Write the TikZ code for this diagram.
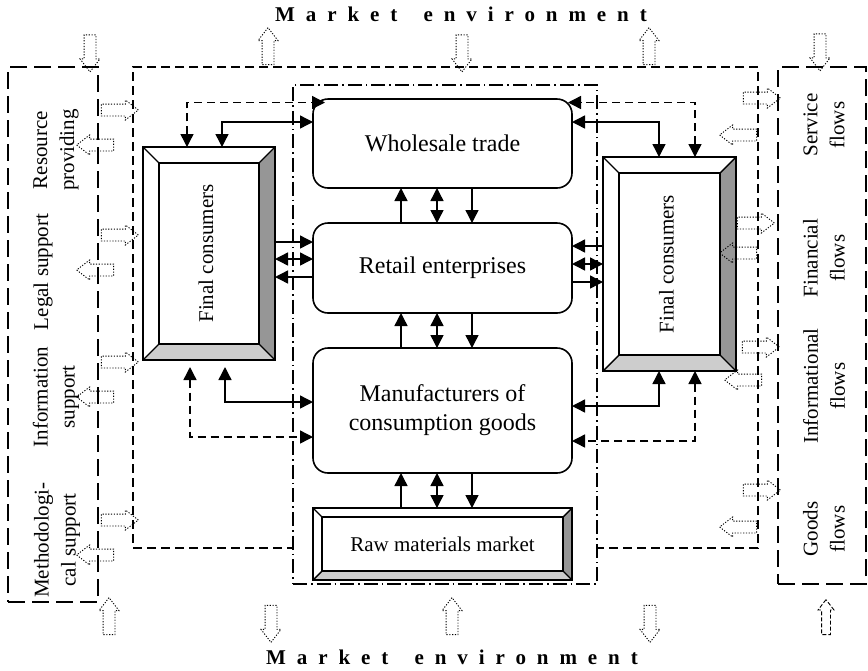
\documentclass[tikz,border=0pt]{standalone}
\usepackage{fontspec}
\setmainfont{Liberation Serif}
\newfontfamily\spacedserif[LetterSpace=52]{Liberation Serif}
\usepackage{tikz}
\usetikzlibrary{
	positioning,
	arrows.meta,
	shapes.arrows,
	calc
}
\definecolor{BevelDark}{RGB}{150,150,150}
\definecolor{BevelLight}{RGB}{205,205,205}

\tikzset{
	tri/.tip={Triangle[length=6.5pt,width=6.5pt]},
	box/.style={draw, line width=0.8pt, rounded corners=7.5pt, inner sep=0pt, outer sep=0pt, align=center, font=\fontsize{12}{14.5}\selectfont},
	bevelnode/.style={inner sep=0pt, outer sep=0pt},
	conn/.style={line width=0.7pt},
	dashconn/.style={conn, dash pattern=on 4pt off 2.5pt},
	outerframe/.style={draw, line width=0.75pt, dash pattern=on 8.5pt off 3.5pt, inner sep=0pt, outer sep=0pt},
	envframe/.style={draw, line width=0.55pt, dash pattern=on 4.5pt off 2.5pt, inner sep=0pt, outer sep=0pt},
	tradeframe/.style={draw, fill=white, line width=0.55pt, dash pattern=on 7pt off 2pt on 0.8pt off 2pt, inner sep=0pt, outer sep=0pt},
	sidelabel/.style={rotate=90, align=center, font=\fontsize{10.5}{13.5}\selectfont},
	envlabel/.style={font=\spacedserif\bfseries\fontsize{10.5}{12}\selectfont},
	flowarrow/.style={single arrow, draw, line width=0.45pt, dash pattern=on 0.6pt off 0.8pt, single arrow head extend=2pt, single arrow tip angle=75, minimum height=18.5pt, inner xsep=0pt, inner ysep=2.75pt, text height=0pt, text depth=0pt},
	dashflowarrow/.style={flowarrow, dash pattern=on 2pt off 1pt, inner ysep=2pt, single arrow head extend=1.75pt, minimum height=17.5pt}
}

% beveled frame: #1 outer node, #1in inner node
\newcommand{\bevelframe}[1]{%
	\fill[BevelDark] (#1.north east) -- (#1.south east) -- (#1in.south east) -- (#1in.north east) -- cycle;
	\fill[BevelLight] (#1.south west) -- (#1.south east) -- (#1in.south east) -- (#1in.south west) -- cycle;
	\draw[line width=0.7pt] (#1.north west) -- (#1in.north west)
		(#1.north east) -- (#1in.north east)
		(#1.south west) -- (#1in.south west)
		(#1.south east) -- (#1in.south east);
	\draw[line width=0.7pt] (#1in.north west) rectangle (#1in.south east);
	\draw[line width=1.1pt] (#1.north west) rectangle (#1.south east);
}

\begin{document}
\begin{tikzpicture}[x=0.5pt, y=-0.5pt]
	\useasboundingbox (0,0) rectangle (868,670);
	
	% frames
	\node[envframe, minimum width=312.5pt, minimum height=240.5pt] (env) at (445.5,307.5) {};
	\node[tradeframe, minimum width=152pt, minimum height=249.5pt] (trade) at (445,334.5) {};
	\node[outerframe, minimum width=45pt, minimum height=267.5pt] (support) at (53,334.5) {};
	\node[outerframe, minimum width=44pt, minimum height=258.5pt] (flows) at (822,325.5) {};
	
	\node[envlabel] (envtop) at (461,14) {Market\hspace{5pt} environment};
	\node[envlabel] (envbot) at (452,657) {Market\hspace{5pt} environment};
	
	% support labels
	\node[sidelabel] (resource) at (56,150) {Resource\\providing};
	\node[sidelabel] (legal) at (43,272) {Legal support};
	\node[sidelabel] (information) at (56,397) {Information\\support};
	\node[sidelabel] (method) at (57,540) {Methodologi-\\cal support};
	
	% flow labels
	\node[sidelabel] (service) at (824,125) {Service\\flows};
	\node[sidelabel] (financial) at (824,258) {Financial\\flows};
	\node[sidelabel] (informational) at (824,386) {Informational\\flows};
	\node[sidelabel] (goods) at (824,529) {Goods\\flows};
	
	% trade boxes
	\node[
	box,
	minimum width=129.5pt,
	minimum height=44.5pt
	] (whole) at (442.5,143.5) {Wholesale trade};
	
	\node[
	box,
	minimum width=129.5pt,
	minimum height=45pt
	] (retail) at (442.5,268) {Retail enterprises};
	
	\node[
	box,
	minimum width=129.5pt,
	minimum height=62.5pt
	] (manu) at (442.5,410.5) {Manufacturers of\\consumption goods};
	
	% beveled frames
	\node[bevelnode, minimum width=129.5pt, minimum height=36pt] (raw) at (442.5,544) {};
	\node[bevelnode, minimum width=120.5pt, minimum height=27pt] (rawin) at (raw) {};
	\bevelframe{raw}
	\node[font=\fontsize{10.5}{12}\selectfont] (rawtext) at (raw) {Raw materials market};
	
	\node[bevelnode, minimum width=66pt, minimum height=106.5pt] (lfc) at (209,253.5) {};
	\node[bevelnode, minimum width=50pt, minimum height=90.5pt] (lfcin) at (lfc) {};
	\bevelframe{lfc}
	\node[sidelabel] (lfctext) at ([xshift=-1.5pt]lfc.center) {Final consumers};
	
	\node[bevelnode, minimum width=66.5pt, minimum height=107pt] (rfc) at (669.5,264) {};
	\node[bevelnode, minimum width=50.5pt, minimum height=91pt] (rfcin) at (rfc) {};
	\bevelframe{rfc}
	\node[sidelabel] (rfctext) at ([xshift=-1.5pt]rfc.center) {Final consumers};
	
	% vertical links
	\foreach \upper/\lower in {whole/retail, retail/manu, manu/raw}{
		\draw[conn, -tri] ([xshift=-20.75pt]\lower.north) -- ([xshift=-20.75pt]\upper.south);
		\draw[conn, tri-tri] ([xshift=-2.75pt]\lower.north) -- ([xshift=-2.75pt]\upper.south);
		\draw[conn, tri-] ([xshift=14.75pt]\lower.north) -- ([xshift=14.75pt]\upper.south);
	}
	
	% final consumers - retail
	\draw[conn, -tri] ($(lfc.east |- retail.west)+(0,-26)$) -- ($(retail.west)+(0,-26)$);
	\draw[conn, tri-tri] ($(lfc.east |- retail.west)+(0,-9)$) -- ($(retail.west)+(0,-9)$);
	\draw[conn, tri-] ($(lfc.east |- retail.west)+(0,9)$) -- ($(retail.west)+(0,9)$);
	\draw[conn, -tri] ($(rfc.west |- retail.east)+(0,-22)$) -- ($(retail.east)+(0,-22)$);
	\draw[conn, tri-tri] ($(rfc.west |- retail.east)+(0,-4)$) -- ($(retail.east)+(0,-4)$);
	\draw[conn, tri-] ($(rfc.west |- retail.east)+(0,14)$) -- ($(retail.east)+(0,14)$);
	
	% final consumers - wholesale
	\draw[conn, tri-tri] ([xshift=6.5pt]lfc.north) |- ([yshift=10.75pt]whole.west);
	\draw[dashconn, tri-tri] ([xshift=-11pt]lfc.north) |- ([xshift=6pt,yshift=20.5pt]whole.west);
	\draw[conn, tri-tri] ([xshift=-5.25pt]rfc.north) |- ([yshift=10.75pt]whole.east);
	\draw[dashconn, tri-tri] ([xshift=12.75pt]rfc.north) |- ([xshift=-2pt,yshift=20.5pt]whole.east);
	
	% final consumers - manufacturers
	\draw[conn, tri-tri, shorten <=3.5pt] ([xshift=8pt]lfc.south) |- ([yshift=4.25pt]manu.west);
	\draw[dashconn, tri-tri, shorten <=3.5pt] ([xshift=-9.5pt]lfc.south) |- ([yshift=-13.25pt]manu.west);
	\draw[conn, tri-tri] ([xshift=-5.25pt]rfc.south) |- ([yshift=2.25pt]manu.east);
	\draw[dashconn, tri-tri] ([xshift=12.75pt]rfc.south) |- ([yshift=-15.25pt]manu.east);
	
	% market environment flows
	\node[flowarrow, rotate=-90] (top1) at (90,49.5) {};
	\node[flowarrow, rotate=90] (top2) at (268,50) {};
	\node[flowarrow, rotate=-90] (top3) at (462,49.5) {};
	\node[flowarrow, rotate=90] (top4) at (649,50) {};
	\node[flowarrow, rotate=-90] (top5) at (820,48.5) {};
	\node[flowarrow, rotate=90] (bot1) at (109,620) {};
	\node[flowarrow, rotate=-90] (bot2) at (271,620) {};
	\node[flowarrow, rotate=90] (bot3) at (452,620) {};
	\node[flowarrow, rotate=-90] (bot4) at (650,620) {};
	\node[dashflowarrow, rotate=90] (bot5) at (826,620) {};
	
	% support flows
	\node[flowarrow] (sup1) at (116,110) {};
	\node[flowarrow, rotate=180] (sup2) at (99,145) {};
	\node[flowarrow] (sup3) at (116,235) {};
	\node[flowarrow, rotate=180] (sup4) at (99,270) {};
	\node[flowarrow] (sup5) at (116,362) {};
	\node[flowarrow, rotate=180] (sup6) at (99,397) {};
	\node[flowarrow] (sup7) at (116,520) {};
	\node[flowarrow, rotate=180] (sup8) at (99,555) {};
	
	% outgoing flows
	\node[flowarrow] (out1) at (758,98) {};
	\node[flowarrow, rotate=180] (out2) at (742,135) {};
	\node[flowarrow] (out3) at (752,223) {};
	\node[flowarrow, rotate=180] (out4) at (742,253) {};
	\node[flowarrow] (out5) at (757,347) {};
	\node[flowarrow, rotate=180] (out6) at (747,380) {};
	\node[flowarrow] (out7) at (758,490) {};
	\node[flowarrow, rotate=180] (out8) at (742,527) {};
	
\end{tikzpicture}
\end{document}
